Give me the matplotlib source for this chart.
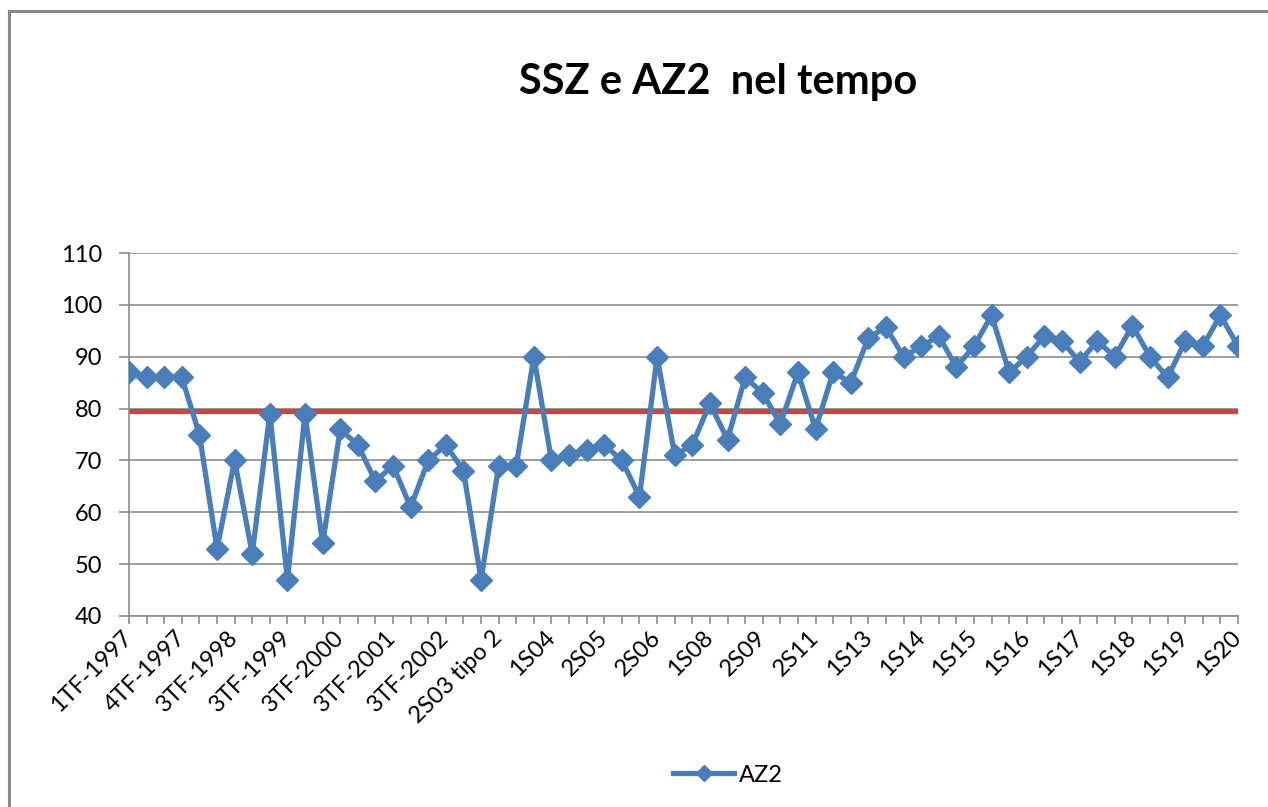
import matplotlib
matplotlib.use("Agg")
import matplotlib.pyplot as plt
from matplotlib.lines import Line2D

plt.rcParams['font.family'] = ['Lato', 'DejaVu Sans']

tick_labels = ["1TF-1997", "4TF-1997", "3TF-1998", "3TF-1999", "3TF-2000",
               "3TF-2001", "3TF-2002", "2S03 tipo 2", "1S04", "2S05", "2S06",
               "1S08", "2S09", "2S11", "1S13", "1S14", "1S15", "1S16", "1S17",
               "1S18", "1S19", "1S20"]

az2 = [87, 86, 86, 86, 75, 53, 70, 52, 79, 47, 79, 54, 76, 73, 66, 69,
       61, 70, 73, 68, 47, 69, 69, 90, 70, 71, 72, 73, 70, 63, 90, 71,
       73, 81, 74, 86, 83, 77, 87, 76, 87, 85, 93.6, 95.7, 90, 92, 94, 88,
       92, 98, 87, 90, 94, 93, 89, 93, 90, 96, 90, 86, 93, 92, 98, 92]

threshold = 79.5

blue = '#4A7EBB'
red = '#BE4B48'
grid_col = '#8C8C8C'

fig = plt.figure(figsize=(12.68, 8.07), dpi=100)
ax = fig.add_axes([129 / 1268, 1 - 616 / 807, 1109 / 1268, 363 / 807])

x = list(range(len(az2)))
ax.plot(x, az2, color=blue, lw=3.8, marker='D', ms=11, mec=blue,
        label='AZ2', zorder=3)
ax.axhline(threshold, color=red, lw=3.8, zorder=2)

ax.set_xlim(0, len(az2) - 1)
ax.set_ylim(40, 110)
ax.set_yticks(range(40, 111, 10))
ax.yaxis.grid(True, color=grid_col, lw=1.2)
ax.set_axisbelow(True)

ax.set_xticks(x, minor=True)
ax.set_xticks(x[::3])
ax.set_xticklabels(tick_labels, rotation=45, ha='right', va='center',
                   rotation_mode='anchor', fontsize=17)
ax.tick_params(axis='x', which='both', direction='out', length=6,
               color=grid_col, width=1.2, pad=7)
ax.tick_params(axis='y', direction='out', length=7, color=grid_col,
               width=1.2, labelsize=17, pad=12)

for side in ['top', 'right']:
    ax.spines[side].set_visible(False)
for side in ['left', 'bottom']:
    ax.spines[side].set_color(grid_col)
    ax.spines[side].set_linewidth(1.2)

fig.text(718 / 1268, 1 - 82 / 807, "SSZ e AZ2  nel tempo", ha='center',
         va='center', fontsize=30, fontweight='bold')

fig.legend(loc='center', bbox_to_anchor=(728 / 1268, 1 - 775 / 807),
           frameon=False, fontsize=17, handlelength=2.6, handletextpad=0.2,
           markerscale=0.75)

# outer chart border (left and top only)
fig.add_artist(Line2D([9 / 1268, 9 / 1268], [0, 1 - 11 / 807],
                      transform=fig.transFigure, color='#888888', lw=2.2))
fig.add_artist(Line2D([9 / 1268, 1], [1 - 11 / 807, 1 - 11 / 807],
                      transform=fig.transFigure, color='#888888', lw=2.2))

fig.savefig('out.png', dpi=100)
